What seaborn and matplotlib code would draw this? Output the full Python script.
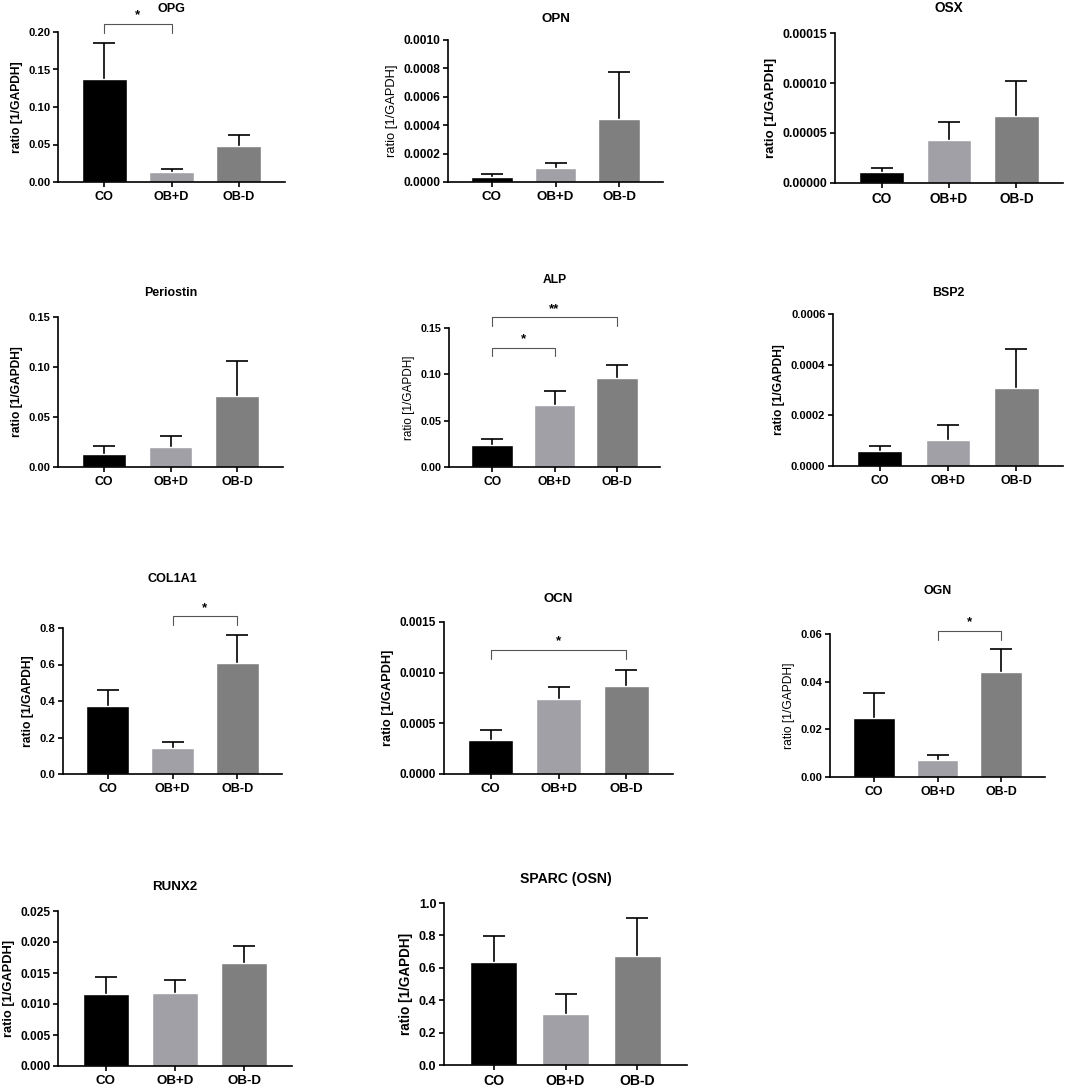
import matplotlib
matplotlib.use("Agg")
import matplotlib.pyplot as plt
import seaborn as sns
import pandas as pd
import numpy as np

# ---------------- data ----------------
groups = ["CO", "OB+D", "OB-D"]
colors = ["#000000", "#A1A0A6", "#7F7F7F"]

opg_mean = [0.137, 0.014, 0.048]
opg_err = [0.048, 0.003, 0.015]
opn_mean = [0.000036, 0.000099, 0.000442]
opn_err = [0.000018, 0.000033, 0.000334]
osx_mean = [0.0000110, 0.0000433, 0.0000673]
osx_err = [0.0000040, 0.0000180, 0.0000344]
periostin_mean = [0.013, 0.0205, 0.0707]
periostin_err = [0.0077, 0.0105, 0.0353]
alp_mean = [0.0241, 0.0673, 0.0960]
alp_err = [0.0065, 0.0151, 0.0137]
bsp2_mean = [0.0000605, 0.000101, 0.000307]
bsp2_err = [0.0000195, 0.000061, 0.000153]
col1a1_mean = [0.374, 0.144, 0.608]
col1a1_err = [0.086, 0.033, 0.152]
ocn_mean = [0.000339, 0.000740, 0.000865]
ocn_err = [0.000098, 0.000115, 0.000165]
ogn_mean = [0.0247, 0.0070, 0.0441]
ogn_err = [0.0107, 0.0021, 0.0095]
runx2_mean = [0.0116, 0.0117, 0.01667]
runx2_err = [0.0028, 0.0021, 0.0027]
sparc_mean = [0.637, 0.3175, 0.670]
sparc_err = [0.161, 0.118, 0.239]

titles = ["OPG", "OPN", "OSX", "Periostin", "ALP", "BSP2",
          "COL1A1", "OCN", "OGN", "RUNX2", "SPARC (OSN)"]
ylabel = "ratio [1/GAPDH]"

# significance brackets: (i, j, height, tip_height, label)
opg_sig = [(0, 1, 0.211, 0.199, "*")]
alp_sig = [(0, 1, 0.1288, 0.1194, "*"), (0, 2, 0.162, 0.152, "**")]
col1a1_sig = [(1, 2, 0.864, 0.815, "*")]
ocn_sig = [(0, 2, 0.001227, 0.00113, "*")]
ogn_sig = [(1, 2, 0.0614, 0.0575, "*")]

# ---------------- layout (pixels: left, right, top, bottom) ----------------
W, H = 1065, 1087
panels = [
    dict(mean=opg_mean, err=opg_err, top=0.20, step=0.05, fmt="%.2f", rect=(58, 285, 32, 182), tdist=24, boldy=True, sig=opg_sig, fs=8.1),
    dict(mean=opn_mean, err=opn_err, top=0.0010, step=0.0002, fmt="%.4f", rect=(448, 663, 40, 182), tdist=23, boldy=False, sig=[], fs=8.6),
    dict(mean=osx_mean, err=osx_err, top=0.00015, step=0.00005, fmt="%.5f", rect=(835, 1063, 33, 183), tdist=25, boldy=True, sig=[], fs=8.8),
    dict(mean=periostin_mean, err=periostin_err, top=0.15, step=0.05, fmt="%.2f", rect=(58, 283, 317, 467), tdist=25, boldy=True, sig=[], fs=8.0),
    dict(mean=alp_mean, err=alp_err, top=0.15, step=0.05, fmt="%.2f", rect=(449, 660, 328, 467), tdist=50, boldy=False, sig=alp_sig, fs=7.8),
    dict(mean=bsp2_mean, err=bsp2_err, top=0.0006, step=0.0002, fmt="%.4f", rect=(833, 1063, 314, 466), tdist=23, boldy=True, sig=[], fs=8.0),
    dict(mean=col1a1_mean, err=col1a1_err, top=0.8, step=0.2, fmt="%.1f", rect=(63, 282, 628, 774), tdist=51, boldy=True, sig=col1a1_sig, fs=8.1),
    dict(mean=ocn_mean, err=ocn_err, top=0.0015, step=0.0005, fmt="%.4f", rect=(444, 673, 622, 774), tdist=24, boldy=True, sig=ocn_sig, fs=8.5),
    dict(mean=ogn_mean, err=ogn_err, top=0.06, step=0.02, fmt="%.2f", rect=(830, 1045, 634, 777), tdist=44, boldy=False, sig=ogn_sig, fs=8.0),
    dict(mean=runx2_mean, err=runx2_err, top=0.025, step=0.005, fmt="%.3f", rect=(58, 292, 911, 1066), tdist=26, boldy=True, sig=[], fs=8.6),
    dict(mean=sparc_mean, err=sparc_err, top=1.0, step=0.2, fmt="%.1f", rect=(444, 687, 903, 1065), tdist=25, boldy=True, sig=[], fs=9.0),
]

sns.set_theme(style="ticks")
plt.rcParams["font.family"] = ["Liberation Sans", "DejaVu Sans"]
plt.rcParams["axes.linewidth"] = 1.2
plt.rcParams["text.color"] = "black"
plt.rcParams["axes.labelcolor"] = "black"
plt.rcParams["axes.titlecolor"] = "black"
plt.rcParams["xtick.color"] = "black"
plt.rcParams["ytick.color"] = "black"

fig = plt.figure(figsize=(W / 100, H / 100), dpi=100)
fig.patch.set_facecolor("white")

LW = 1.2
for title, p in zip(titles, panels):
    l, r, t, b = p["rect"]
    fs = p["fs"]
    ax = fig.add_axes([l / W, 1 - b / H, (r - l) / W, (b - t) / H])
    df = pd.DataFrame({"group": groups, "value": p["mean"]})
    sns.barplot(data=df, x="group", y="value", hue="group", order=groups,
                hue_order=groups, palette=colors, saturation=1, width=0.66,
                errorbar=None, legend=False, ax=ax, zorder=2)
    eb = ax.errorbar(np.arange(len(groups)), p["mean"],
                     yerr=[np.zeros(len(groups)), p["err"]],
                     fmt="none", ecolor="black", elinewidth=LW, capsize=8,
                     capthick=LW, zorder=1)
    for cl in eb[1]:
        if np.allclose(cl.get_ydata(), p["mean"]):
            cl.remove()
    ax.set_xlim(-0.69, 2.69)
    ax.set_ylim(0, p["top"])
    ticks = np.arange(0, p["top"] + p["step"] / 2, p["step"])
    ax.set_yticks(ticks)
    ax.set_yticklabels([p["fmt"] % v for v in ticks])
    ax.set_xlabel("")
    ax.set_ylabel(ylabel, fontsize=fs * 1.08,
                  fontweight="bold" if p["boldy"] else "normal", labelpad=4)
    for s in ["top", "right"]:
        ax.spines[s].set_visible(False)
    for s in ["left", "bottom"]:
        ax.spines[s].set_linewidth(LW)
        ax.spines[s].set_color("black")
    ax.tick_params(axis="y", length=3.5, width=LW, color="black",
                   labelsize=fs, pad=2, direction="out")
    ax.tick_params(axis="x", length=3.5, width=LW, color="black",
                   labelsize=fs * 1.12, pad=3, direction="out")
    for lab in ax.get_xticklabels() + ax.get_yticklabels():
        lab.set_fontweight("bold")
        lab.set_color("black")
    ax.set_facecolor("white")
    pad_px = p["tdist"] - 4.5
    ax.set_title(title, fontsize=fs * 1.12, fontweight="bold", color="black",
                 pad=pad_px * 0.72)
    for (i, j, h, tip, lab) in p["sig"]:
        ax.plot([i, i, j, j], [tip, h, h, tip], color="#555555", lw=0.8,
                clip_on=False, zorder=3)
        ax.annotate(lab, xy=((i + j) / 2, h), xytext=(0, 1.5),
                    textcoords="offset points", ha="center", va="bottom",
                    fontsize=9.5, fontweight="bold", annotation_clip=False)

fig.savefig("out.png", dpi=100, facecolor="white")
